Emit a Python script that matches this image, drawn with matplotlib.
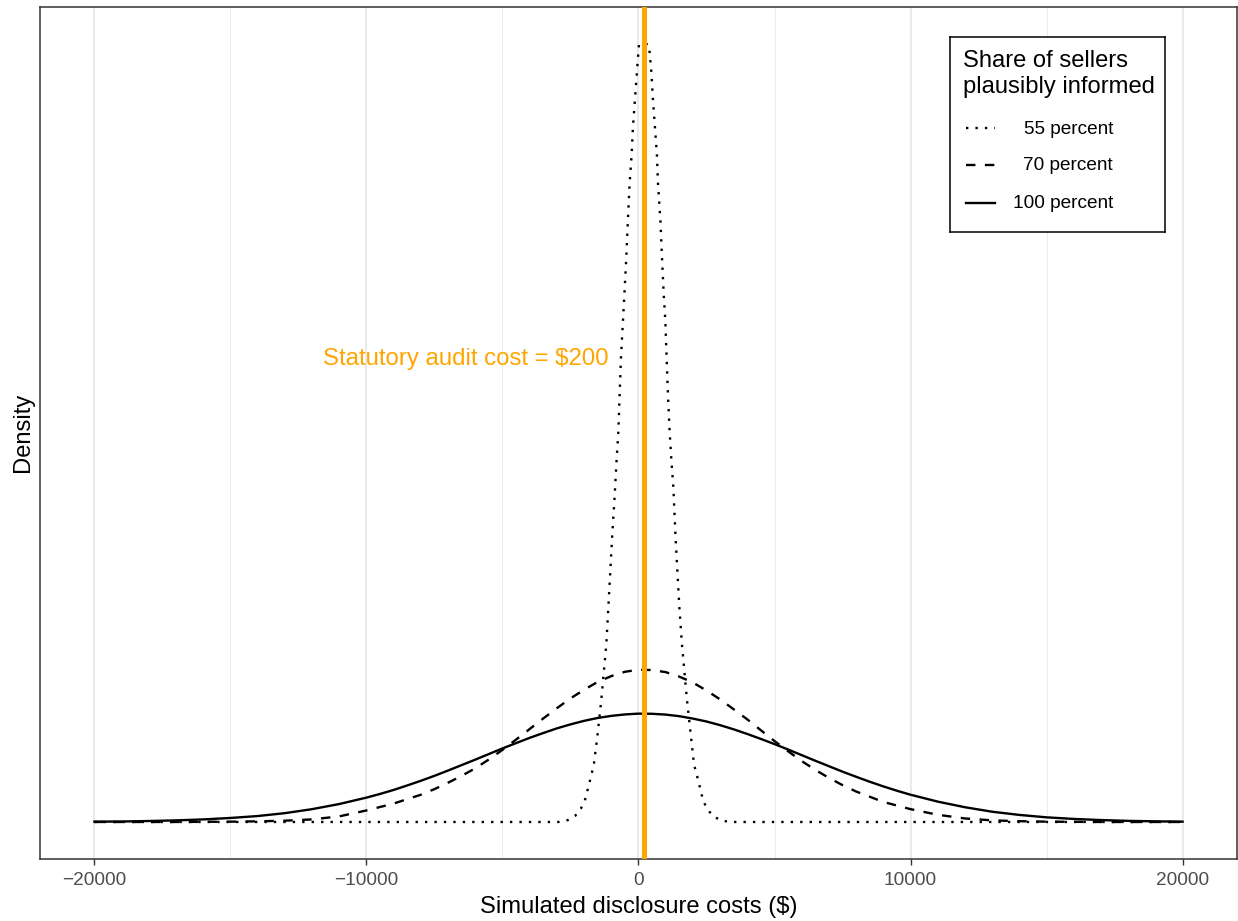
import matplotlib.pyplot as plt

plt.rcParams['font.family'] = ['Liberation Sans', 'DejaVu Sans']

# density values, in units of 1e-5
solid_x = [-20000, -19000, -18000, -17000, -16000, -15000, -14000, -13000, -12000, -11000,
           -10000, -9500, -9000, -8500, -8000, -7500, -7000, -6500, -6000, -5500,
           -5000, -4500, -4000, -3500, -3000, -2500, -2000, -1500, -1000, -500,
           0, 500, 1000, 1500, 2000, 2500, 3000, 3500, 4000, 4500,
           5000, 5500, 6000, 6500, 7000, 7500, 8000, 8500, 9000, 9500,
           10000, 11000, 12000, 13000, 14000, 15000, 16000, 17000, 18000, 19000, 20000]
solid_y = [0.02, 0.03, 0.06, 0.10, 0.16, 0.25, 0.37, 0.55, 0.80, 1.12,
           1.52, 1.75, 2.00, 2.28, 2.57, 2.88, 3.21, 3.55, 3.89, 4.24,
           4.59, 4.92, 5.25, 5.55, 5.84, 6.09, 6.31, 6.49, 6.62, 6.71,
           6.76, 6.75, 6.70, 6.60, 6.45, 6.27, 6.04, 5.78, 5.49, 5.18,
           4.86, 4.52, 4.17, 3.82, 3.48, 3.14, 2.82, 2.51, 2.22, 1.95,
           1.70, 1.27, 0.92, 0.64, 0.44, 0.29, 0.19, 0.12, 0.07, 0.04, 0.02]

dashed_x = [-20000, -19000, -18000, -17000, -16000, -15000, -14000, -13000, -12000, -11000,
            -10000, -9000, -8000, -7500, -7000, -6500, -6000, -5500, -5000, -4500,
            -4000, -3500, -3000, -2500, -2000, -1500, -1000, -500, 0, 500,
            1000, 1500, 2000, 2500, 3000, 3500, 4000, 4500, 5000, 5500,
            6000, 6500, 7000, 7500, 8000, 9000, 10000, 11000, 12000, 13000,
            14000, 15000, 16000, 17000, 18000, 19000, 20000]
dashed_y = [0.00, 0.00, 0.00, 0.00, 0.01, 0.02, 0.04, 0.08, 0.16, 0.35,
            0.72, 1.15, 1.70, 2.05, 2.45, 2.88, 3.35, 3.90, 4.50, 5.14,
            5.80, 6.46, 7.10, 7.71, 8.25, 8.74, 9.10, 9.37, 9.50, 9.48,
            9.35, 9.07, 8.70, 8.20, 7.65, 7.03, 6.40, 5.72, 5.05, 4.41,
            3.80, 3.25, 2.75, 2.30, 1.90, 1.25, 0.80, 0.45, 0.22, 0.10,
            0.05, 0.02, 0.01, 0.00, 0.00, 0.00, 0.00]

dotted_x = [-20000, -10000, -2939, -2608, -2324, -2118, -1971, -1798, -1640, -1515,
            -1368, -1184, -1110, -1036, -963, -878, -805, -742, -694, -646,
            -573, -499, -448, -389, -326, -253, -205, -131, -58, 16,
            200,
            384, 472, 531, 605, 678, 715, 804, 862, 925, 988,
            1035, 1083, 1146, 1208, 1282, 1356, 1429, 1503, 1598, 1782,
            1930, 2040, 2213, 2371, 2518, 2728, 3011, 3343, 10000, 20000]
dotted_y = [0.00, 0.00, 0.00, 0.11, 0.39, 0.83, 1.35, 2.48, 3.60, 5.30,
            7.61, 11.06, 13.35, 15.66, 17.97, 20.30, 22.59, 24.31, 26.64, 28.93,
            31.21, 33.55, 35.27, 37.56, 39.85, 41.61, 43.34, 45.07, 46.79, 48.48,
            48.60,
            48.48, 46.79, 45.07, 43.34, 41.61, 39.87, 37.56, 35.27, 32.98, 31.21,
            28.93, 26.64, 24.31, 22.59, 20.86, 17.97, 15.66, 13.35, 11.06, 7.61,
            5.30, 3.60, 2.48, 1.35, 0.83, 0.39, 0.11, 0.00, 0.00, 0.00]

audit_cost = 200
major_ticks = [-20000, -10000, 0, 10000, 20000]
tick_labels = ["\u221220000", "\u221210000", "0", "10000", "20000"]
minor_ticks = [-15000, -5000, 5000, 15000]

series = [("55 percent", dotted_x, dotted_y, (0, (1, 3))),
          ("70 percent", dashed_x, dashed_y, (0, (4, 4))),
          ("100 percent", solid_x, solid_y, "solid")]

fig = plt.figure(figsize=(12.38, 9.21), dpi=100)
ax = fig.add_axes([40 / 1238, 62 / 921, 1197 / 1238, 852 / 921])

for label, xs, ys, ls in series:
    ax.plot(xs, ys, color="black", lw=1.7, linestyle=ls, zorder=3)

ax.axvline(audit_cost, color="#FFA500", lw=3.6, zorder=4)
ax.text(-1100, 28.5, "Statutory audit cost = $200", color="#FFA500",
        fontsize=17.3, ha="right", va="baseline", zorder=5)

ax.set_xlim(-22000, 22000)
ax.set_ylim(-2.31, 50.85)
ax.set_xticks(major_ticks)
ax.set_xticklabels(tick_labels)
ax.set_xticks(minor_ticks, minor=True)
ax.set_yticks([])
ax.grid(axis="x", which="major", color="#EBEBEB", lw=1.5, zorder=0)
ax.grid(axis="x", which="minor", color="#EBEBEB", lw=0.75, zorder=0)
ax.set_axisbelow(True)
ax.tick_params(axis="x", which="major", length=4.3, width=1.0, color="#333333",
               labelsize=13.7, labelcolor="#4D4D4D", pad=5.3)
ax.tick_params(axis="x", which="minor", length=0)
for s in ax.spines.values():
    s.set_color("#333333")
    s.set_linewidth(1.1)

fig.text(638.5 / 1238, (921 - 913) / 921, "Simulated disclosure costs ($)",
         fontsize=17.1, ha="center", va="baseline")
fig.text(12 / 1238, 1 - 432 / 921, "Density", fontsize=17.1, rotation=90,
         ha="left", va="center")

# legend box drawn by hand (labels are right-aligned)
lax = fig.add_axes([950 / 1238, (921 - 232) / 921, 215 / 1238, 195 / 921])
lax.set_xlim(0, 215)
lax.set_ylim(195, 0)
lax.set_xticks([])
lax.set_yticks([])
for s in lax.spines.values():
    s.set_color("black")
    s.set_linewidth(1.1)
lax.text(13, 30, "Share of sellers", fontsize=17.1, va="baseline")
lax.text(13, 56, "plausibly informed", fontsize=17.1, va="baseline")
key_y = [91.3, 128, 165.7]
for (label, xs, ys, ls), ky in zip(series, key_y):
    lax.plot([16, 45], [ky, ky], color="black", lw=1.7, linestyle=ls)
    lax.text(163, ky + 5.3, label, fontsize=13.7, ha="right", va="baseline")

fig.savefig("out.png", dpi=100)
